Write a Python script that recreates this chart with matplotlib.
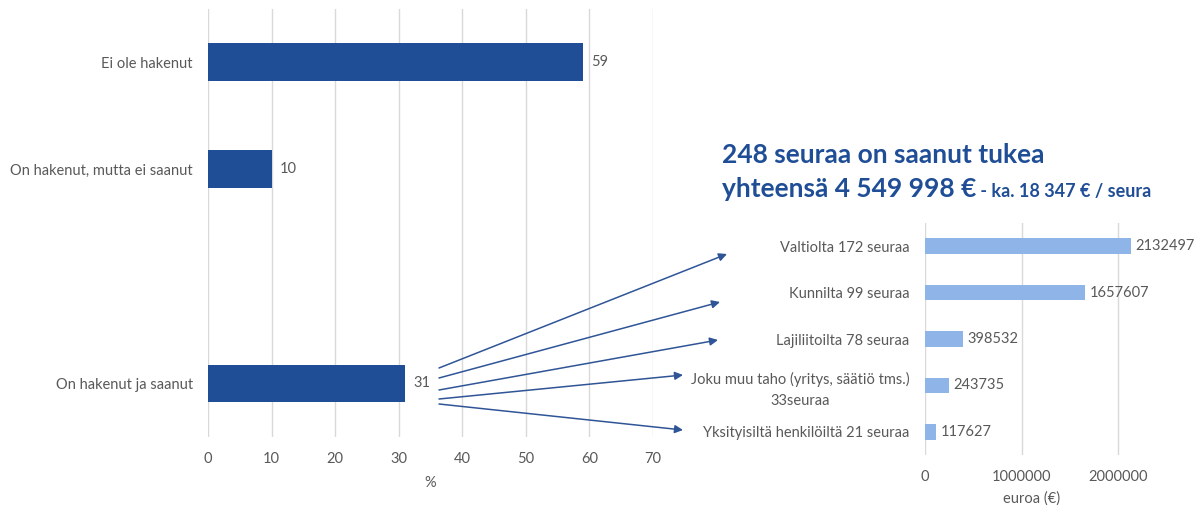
import matplotlib
matplotlib.use("Agg")
import matplotlib.pyplot as plt
import numpy as np

plt.rcParams['font.family'] = ['Lato', 'DejaVu Sans']

# ---- data ----
left_categories = ["Ei ole hakenut", "On hakenut, mutta ei saanut", "", "On hakenut ja saanut"]
left_values = [59, 10, None, 31]
left_ticks = [0, 10, 20, 30, 40, 50, 60, 70]

right_categories = ["Valtiolta 172 seuraa", "Kunnilta 99 seuraa", "Lajiliitoilta 78 seuraa",
                    "Joku muu taho (yritys, säätiö tms.)\n33seuraa", "Yksityisiltä henkilöiltä 21 seuraa"]
right_values = [2132497, 1657607, 398532, 243735, 117627]
right_ticks = [0, 1000000, 2000000]

title_line1 = "248 seuraa on saanut tukea"
title_line2 = "yhteensä 4 549 998 €"
title_small = " - ka. 18 347 € / seura"

DARK = "#1F4E96"
LIGHT = "#8FB4E8"
GRAY = "#595959"
GRID = "#D9D9D9"
ARROW = "#2F5597"
FS = 10.5

W, H = 1198, 508
fig = plt.figure(figsize=(W / 100, H / 100), dpi=100)

def fx(px):
    return px / W

def fy(py):
    return 1 - py / H

# ---- left chart ----
axL = fig.add_axes([fx(208), fy(437), fx(653) - fx(208), fy(8.5) - fy(437)])
ypos = np.arange(len(left_categories))
for i, v in enumerate(left_values):
    if v is None:
        continue
    axL.barh(ypos[i], v, height=0.35, color=DARK, zorder=3)
    axL.text(v + 1.3, ypos[i], str(v), va='center', ha='left', fontsize=FS, color=GRAY)
axL.set_yticks(ypos)
axL.set_yticklabels(left_categories, fontsize=FS, color=GRAY)
axL.set_ylim(3.5, -0.5)
axL.set_xlim(0, 70)
axL.set_xticks(left_ticks)
axL.set_xticklabels([str(t) for t in left_ticks], fontsize=FS, color=GRAY)
axL.grid(axis='x', color=GRID, linewidth=1, zorder=0)
for s in axL.spines.values():
    s.set_visible(False)
axL.tick_params(axis='x', length=0, pad=11)
axL.tick_params(axis='y', length=0, pad=11)
axL.set_xlabel("%", fontsize=FS, color=GRAY, labelpad=7)

# ---- right chart ----
xmax = 2200000
axR = fig.add_axes([fx(925), fy(455), fx(925 + 2.2 * 96.5) - fx(925), fy(223) - fy(455)])
yr = np.arange(len(right_categories))
axR.barh(yr, right_values, height=0.34, color=LIGHT, zorder=3)
for i, v in enumerate(right_values):
    axR.text(v + 45000, yr[i], str(v), va='center', ha='left', fontsize=FS, color=GRAY)
axR.set_yticks(yr)
axR.set_yticklabels(right_categories, fontsize=FS, color=GRAY, multialignment='center',
                    linespacing=1.6)
axR.set_ylim(4.5, -0.5)
axR.set_xlim(0, xmax)
axR.set_xticks(right_ticks)
axR.set_xticklabels([str(t) for t in right_ticks], fontsize=FS, color=GRAY)
axR.grid(axis='x', color=GRID, linewidth=1, zorder=0)
for s in axR.spines.values():
    s.set_visible(False)
axR.tick_params(axis='x', length=0, pad=11)
axR.tick_params(axis='y', length=0, pad=11)
axR.set_xlabel("euroa (€)", fontsize=FS, color=GRAY, labelpad=5)

# ---- title ----
t1 = fig.text(fx(722), fy(163), title_line1, fontsize=19, fontweight='bold', color=DARK,
              ha='left', va='baseline')
t2 = fig.text(fx(722), fy(197), title_line2, fontsize=19, fontweight='bold', color=DARK,
              ha='left', va='baseline')
renderer = fig.canvas.get_renderer()
bb = t2.get_window_extent(renderer)
fig.text(bb.x1 / W, fy(197), title_small, fontsize=13, fontweight='bold', color=DARK,
         ha='left', va='baseline')

# ---- arrows (figure pixel coords) ----
arrow_starts = [(439, 368), (439, 378), (439, 390), (439, 399), (439, 404)]
arrow_ends = [(727, 254), (720, 302), (718, 340), (683, 375), (683, 430)]
for (x0, y0), (x1, y1) in zip(arrow_starts, arrow_ends):
    fig.add_artist(matplotlib.patches.FancyArrowPatch(
        (fx(x0), fy(y0)), (fx(x1), fy(y1)), transform=fig.transFigure,
        arrowstyle='-|>', mutation_scale=12, color=ARROW, linewidth=1.1,
        shrinkA=0, shrinkB=0))

fig.savefig("out.png", dpi=100)
